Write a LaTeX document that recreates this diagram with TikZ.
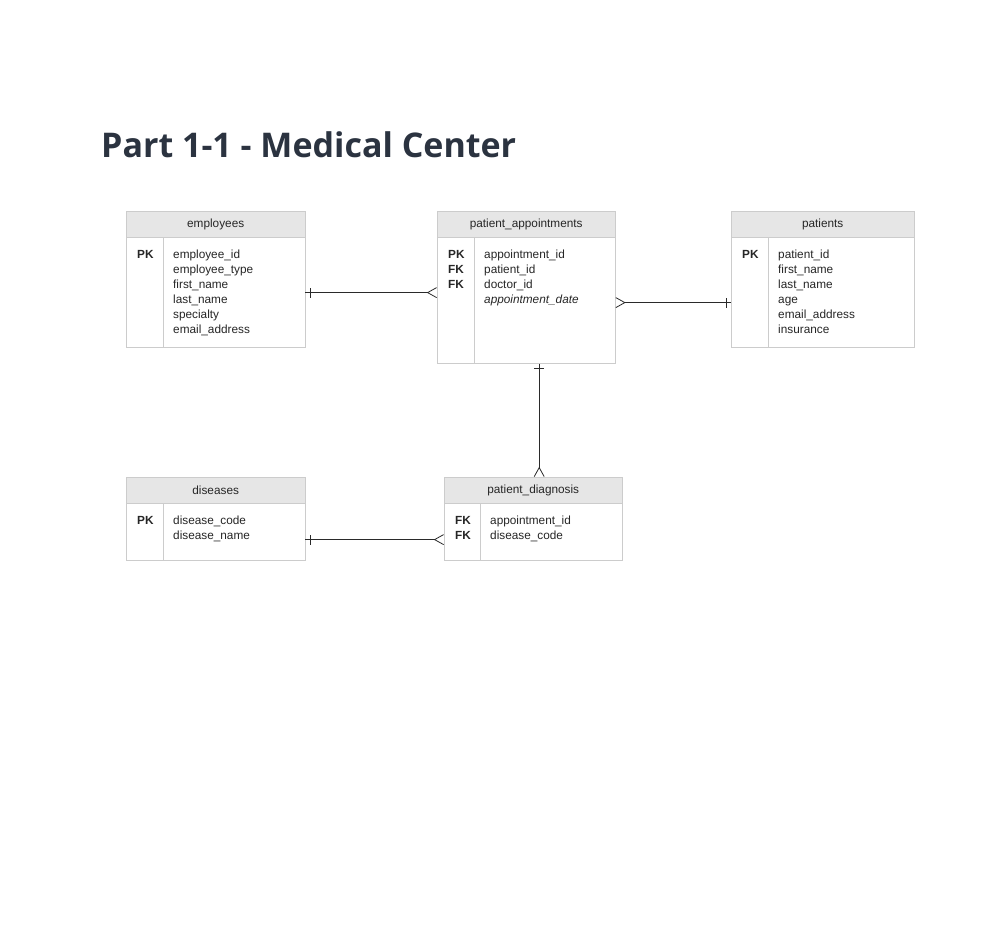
\documentclass[tikz,border=0pt]{standalone}
\usepackage{fontspec}
\setmainfont{Liberation Sans}
\newfontfamily\titlefont{Open Sans}
\usetikzlibrary{arrows.meta,positioning,decorations.markings}
\definecolor{HeadGray}{HTML}{E6E6E6}
\definecolor{EdgeGray}{HTML}{CCCCCC}
\definecolor{TitleInk}{HTML}{2B3340}
\definecolor{LineInk}{HTML}{2A2A2A}
\tikzset{crow/.tip={Straight Barb[reversed,length=9pt,width=10pt]}}

\begin{document}
\begin{tikzpicture}[x=1pt,y=-1pt, every node/.style={font=\fontsize{11.8}{15}\selectfont,text=black!85},
  head/.style={draw=EdgeGray,fill=HeadGray,minimum width=#1,minimum height=26pt,inner sep=0pt,anchor=north west},
  keys/.style={align=left,inner sep=0pt,anchor=north west,font=\fontsize{11.8}{15}\selectfont\bfseries},
  fields/.style={align=left,inner sep=0pt,anchor=north west},
  rel/.style={draw=LineInk,line width=0.8pt},
  barstart/.style={postaction={decorate,decoration={markings,mark=at position 5pt with {\draw[-,LineInk,line width=0.8pt] (0,-5pt) -- (0,5pt);}}}},
  barend/.style={postaction={decorate,decoration={markings,mark=at position -5pt with {\draw[-,LineInk,line width=0.8pt] (0,-5pt) -- (0,5pt);}}}}]
\fill[white] (0,0) rectangle (1003,941);
\node[anchor=base west,inner sep=0pt,font=\titlefont\bfseries\fontsize{34}{40}\selectfont,text=TitleInk] (title) at (101,158) {Part 1-1 - Medical Center};

% employees
\node[head=179pt] (emph) at (126,211) {employees};
\node[draw=EdgeGray,fill=white,minimum width=179pt,minimum height=110pt,inner sep=0pt,below=0pt of emph] (empb) {};
\draw[EdgeGray] ([xshift=37pt]empb.north west) -- ([xshift=37pt]empb.south west);
\node[keys] (empk) at ([xshift=11pt,yshift=-12.5pt]empb.north west) {PK};
\node[fields] (empf) at ([xshift=47pt,yshift=-12.5pt]empb.north west) {employee\_id\\employee\_type\\first\_name\\last\_name\\specialty\\email\_address};

% patient_appointments
\node[head=178pt] (pah) at (437,211) {patient\_appointments};
\node[draw=EdgeGray,fill=white,minimum width=178pt,minimum height=126pt,inner sep=0pt,below=0pt of pah] (pab) {};
\draw[EdgeGray] ([xshift=37pt]pab.north west) -- ([xshift=37pt]pab.south west);
\node[keys] (pak) at ([xshift=11pt,yshift=-12.5pt]pab.north west) {PK\\FK\\FK};
\node[fields] (paf) at ([xshift=47pt,yshift=-12.5pt]pab.north west) {appointment\_id\\patient\_id\\doctor\_id\\\textit{appointment\_date}};

% patients
\node[head=183pt] (pth) at (731,211) {patients};
\node[draw=EdgeGray,fill=white,minimum width=183pt,minimum height=110pt,inner sep=0pt,below=0pt of pth] (ptb) {};
\draw[EdgeGray] ([xshift=37pt]ptb.north west) -- ([xshift=37pt]ptb.south west);
\node[keys] (ptk) at ([xshift=11pt,yshift=-12.5pt]ptb.north west) {PK};
\node[fields] (ptf) at ([xshift=47pt,yshift=-12.5pt]ptb.north west) {patient\_id\\first\_name\\last\_name\\age\\email\_address\\insurance};

% diseases
\node[head=179pt] (dish) at (126,477) {diseases};
\node[draw=EdgeGray,fill=white,minimum width=179pt,minimum height=57pt,inner sep=0pt,below=0pt of dish] (disb) {};
\draw[EdgeGray] ([xshift=37pt]disb.north west) -- ([xshift=37pt]disb.south west);
\node[keys] (disk) at ([xshift=11pt,yshift=-12.5pt]disb.north west) {PK};
\node[fields] (disf) at ([xshift=47pt,yshift=-12.5pt]disb.north west) {disease\_code\\disease\_name};

% patient_diagnosis
\node[head=178pt] (pdh) at (444,477) {patient\_diagnosis};
\node[draw=EdgeGray,fill=white,minimum width=178pt,minimum height=57pt,inner sep=0pt,below=0pt of pdh] (pdb) {};
\draw[EdgeGray] ([xshift=36pt]pdb.north west) -- ([xshift=36pt]pdb.south west);
\node[keys] (pdk) at ([xshift=11pt,yshift=-12.5pt]pdb.north west) {FK\\FK};
\node[fields] (pdf) at ([xshift=46pt,yshift=-12.5pt]pdb.north west) {appointment\_id\\disease\_code};

% relationships
\coordinate (pa out) at ([yshift=-2pt]pab.east);
\coordinate (pa down) at ([xshift=13pt]pab.south);
\coordinate (dis out) at ([yshift=-7.5pt]disb.east);
\draw[rel,barstart,-crow] (empb.east) -- (pab.west |- empb.east);
\draw[rel,barend,crow-] (pa out) -- (ptb.west |- pa out);
\draw[rel,barstart,-crow] (pa down) -- (pa down |- pdh.north);
\draw[rel,barstart,-crow] (dis out) -- (pdb.west |- dis out);
\end{tikzpicture}
\end{document}
